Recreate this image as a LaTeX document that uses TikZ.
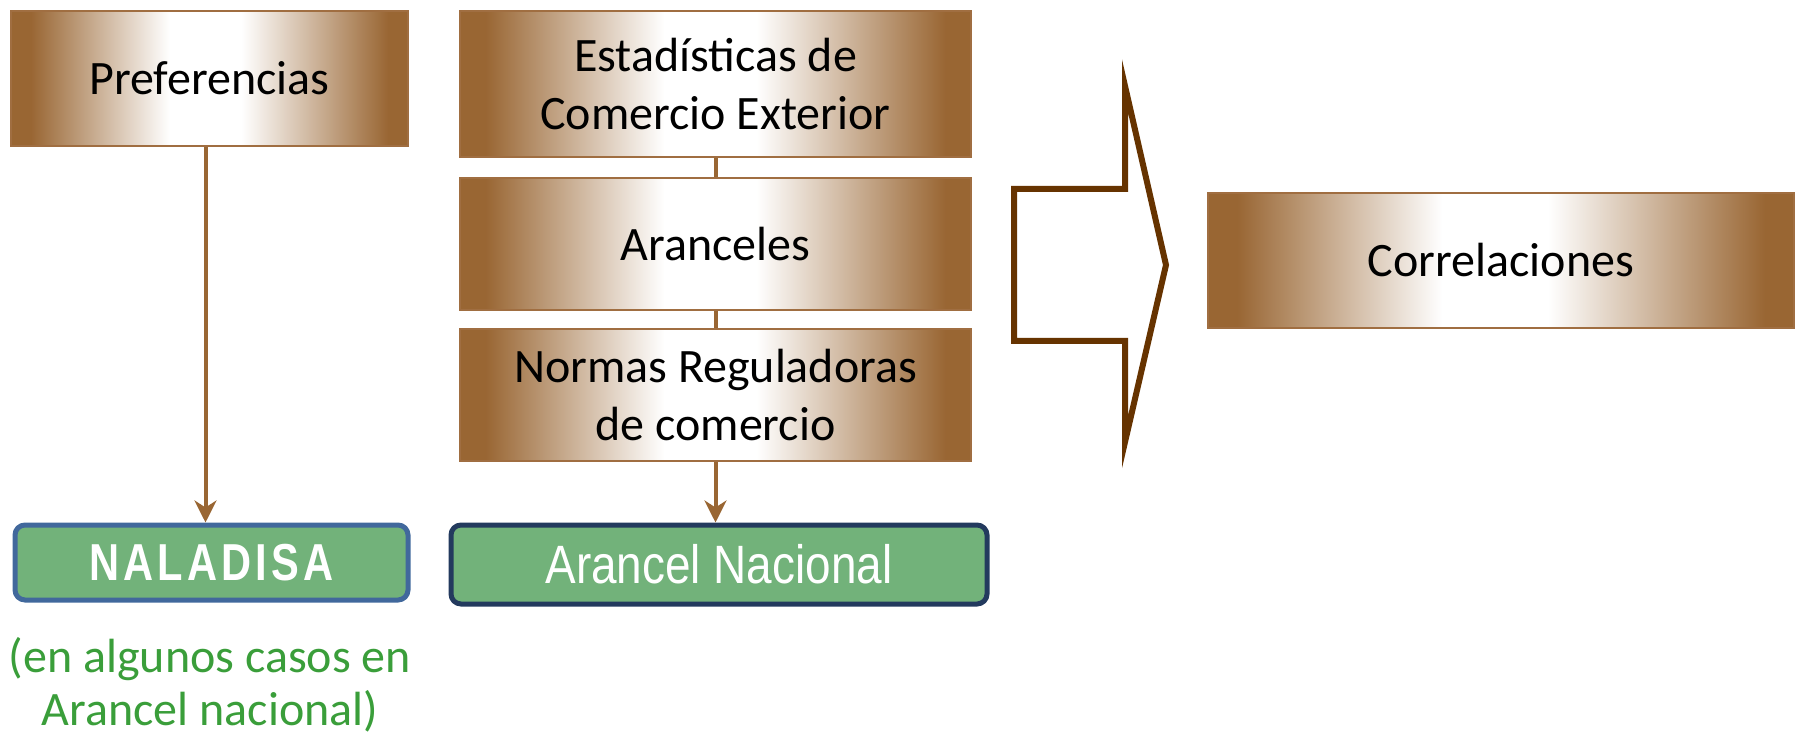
\documentclass[tikz,border=0pt]{standalone}
\usepackage{fontspec}
\setmainfont{Carlito}
\newfontfamily\narrowfont[FakeStretch=0.85]{Liberation Sans}
\newfontfamily\narrowboldfont[FakeStretch=0.8,LetterSpace=8]{Liberation Sans Bold}
\usetikzlibrary{arrows.meta}
\definecolor{brn}{RGB}{153,102,51}
\definecolor{brnline}{RGB}{160,110,65}
\definecolor{darkbrn}{RGB}{102,51,0}
\definecolor{grfill}{RGB}{114,178,122}
\definecolor{blueborder}{RGB}{65,104,156}
\definecolor{navyborder}{RGB}{35,58,94}
\definecolor{notegreen}{RGB}{58,158,58}
\pgfdeclarehorizontalshading{brownshade}{100bp}{color(0bp)=(brn); color(25bp)=(brn); color(27.5bp)=(brn); color(45bp)=(white); color(54bp)=(white); color(72.5bp)=(brn); color(75bp)=(brn); color(100bp)=(brn)}
\tikzset{
  x=1pt, y=-1pt,
  brownbox/.style={draw=brnline, line width=2pt, shading=brownshade, minimum width=#1, inner sep=0pt, align=center, font=\fontsize{48}{58}\selectfont},
  greenbox/.style={fill=grfill, line width=5pt, rounded corners=10pt, inner sep=0pt, text=white},
  conn/.style={draw=brn, line width=4pt},
  connarrow/.style={conn, -{Stealth[length=22pt,width=22pt,inset=7pt]}},
}
\begin{document}
\begin{tikzpicture}
\useasboundingbox (0,0) rectangle (1800,735);
% left column
\node[brownbox=397pt, minimum height=135pt] (pref) at (209.5,78.5) {Preferencias};
\node[greenbox, draw=blueborder, minimum width=393pt, minimum height=75pt, font=\narrowboldfont\fontsize{52}{54}\selectfont] (nal) at (211.5,562.5) {NALADISA};
\node[text=notegreen, align=center, font=\fontsize{48}{53}\selectfont] (note) at (210,685) {(en algunos casos en\\Arancel nacional)};
% middle stack
\node[brownbox=511pt, minimum height=146pt] (est) at (715.5,84) {Estadísticas de\\Comercio Exterior};
\node[brownbox=511pt, minimum height=132pt] (ara) at (715.5,244) {Aranceles};
\node[brownbox=511pt, minimum height=132pt] (nor) at (715.5,395) {Normas Reguladoras\\de comercio};
\node[greenbox, draw=navyborder, minimum width=536pt, minimum height=79pt, font=\narrowfont\fontsize{54}{56}\selectfont] (an) at (719,564.5) {Arancel Nacional};
% right
\node[brownbox=586pt, minimum height=135pt] (corr) at (1501,260.5) {Correlaciones};
% connectors
\draw[connarrow] ([xshift=-4pt]pref.south) -- ([xshift=-4pt]pref.south |- nal.north);
\draw[conn] (est.south) -- (ara.north);
\draw[conn] (ara.south) -- (nor.north);
\draw[connarrow] (nor.south) -- (nor.south |- an.north);
% big arrow
\draw[darkbrn, line width=6pt, fill=white, line join=miter]
  (1014,189) -- (1125,189) -- (1125,86) -- (1166,265) -- (1125,442) -- (1125,341) -- (1014,341) -- cycle;
\end{tikzpicture}
\end{document}
